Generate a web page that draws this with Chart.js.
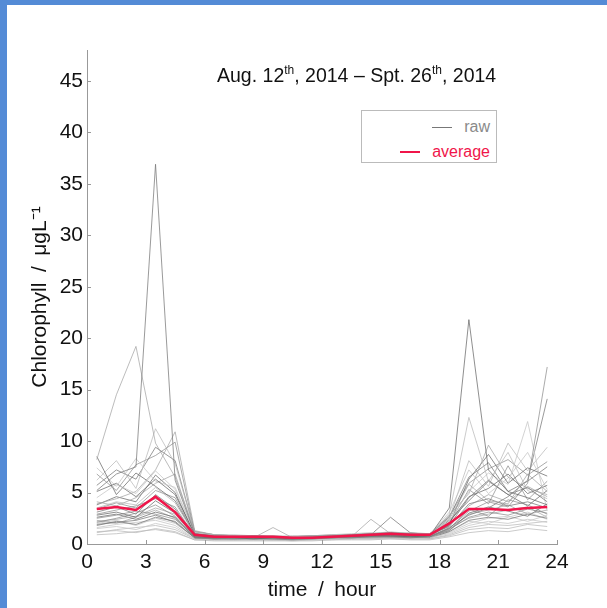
<!DOCTYPE html>
<html>
  <head>
    <title>Chlorophyll daily cycle</title>
    <script src="https://cdn.jsdelivr.net/npm/chart.js"></script>
    <style>
      body {
        margin: 0;
        width: 607px;
        height: 608px;
        background: #fff;
        position: relative;
        overflow: hidden;
        font-family: "Liberation Sans", Arial, sans-serif;
      }
      .frameTop { position: absolute; left: 0; top: 0; width: 607px; height: 5px; background: #548bd6; }
      .frameLeft { position: absolute; left: 0; top: 0; width: 7px; height: 608px; background: #548bd6; }
      canvas { position: absolute; left: 0; top: 0; }
      .title {
        position: absolute;
        left: 217px;
        top: 63px;
        font-size: 19.5px;
        color: #111;
        white-space: nowrap;
      }
      .title sup { font-size: 12px; }
      .legend {
        position: absolute;
        left: 361px;
        top: 110px;
        width: 134px;
        height: 51px;
        border: 1px solid #bbb;
        background: #fff;
        font-size: 16px;
      }
      .row { position: absolute; right: 6px; display: flex; align-items: center; }
      .row span.swatch { display: inline-block; width: 20px; margin-right: 12px; }
    </style>
  </head>
  <body>
    <div class="frameTop"></div>
    <div class="frameLeft"></div>
    <canvas id="chart" width="607" height="608"></canvas>
    <div class="title">Aug. 12<sup>th</sup>, 2014 – Spt. 26<sup>th</sup>, 2014</div>
    <div class="legend">
      <div class="row" style="top:7px;color:#8a8a8a"><span class="swatch" style="border-top:1.5px solid #777"></span>raw</div>
      <div class="row" style="top:32px;color:#f0154a"><span class="swatch" style="border-top:2px solid #f0154a"></span>average</div>
    </div>

    <script>
      // hour of each sample (half past)
      const hours = [0.5, 1.5, 2.5, 3.5, 4.5, 5.5, 6.5, 7.5, 8.5, 9.5, 10.5, 11.5,
                     12.5, 13.5, 14.5, 15.5, 16.5, 17.5, 18.5, 19.5, 20.5, 21.5, 22.5, 23.5];

      const average = [3.4, 3.6, 3.3, 4.6, 3.1, 0.9, 0.7, 0.7, 0.7, 0.7, 0.6, 0.6,
                       0.7, 0.8, 0.9, 1.0, 0.9, 0.9, 2.0, 3.4, 3.4, 3.3, 3.5, 3.6];

      // raw daily profiles, ug/L
      const day01 = [5.2, 6.8, 7.5, 36.9, 6.2, 1.0, 0.8, 0.7, 0.8, 0.7, 0.6, 0.7, 0.8, 0.9, 1.0, 1.1, 1.0, 0.9, 1.8, 4.5, 6.2, 4.8, 5.5, 4.1];
      const day02 = [8.2, 14.5, 19.2, 9.8, 6.5, 1.2, 0.9, 0.8, 0.7, 0.7, 0.8, 0.8, 0.9, 0.8, 0.9, 1.0, 1.1, 1.0, 2.4, 5.8, 4.2, 3.9, 6.8, 5.1];
      const day03 = [2.8, 3.1, 2.6, 4.2, 3.0, 0.7, 0.6, 0.6, 0.5, 0.6, 0.5, 0.6, 0.7, 0.7, 0.8, 0.8, 0.7, 0.8, 3.5, 21.8, 7.2, 5.1, 4.5, 3.8];
      const day04 = [3.5, 4.1, 3.8, 5.5, 4.0, 0.9, 0.8, 0.7, 0.7, 0.6, 0.6, 0.7, 0.7, 0.8, 0.9, 1.0, 0.9, 0.8, 2.9, 12.3, 6.1, 8.9, 5.2, 4.4];
      const day05 = [2.1, 2.5, 3.0, 3.8, 2.7, 0.6, 0.5, 0.6, 0.6, 0.5, 0.5, 0.6, 0.6, 0.7, 0.8, 0.7, 0.8, 0.8, 1.5, 3.2, 4.1, 3.6, 5.9, 17.2];
      const day06 = [4.5, 5.8, 4.9, 7.1, 5.3, 1.1, 0.9, 0.8, 0.8, 0.7, 0.7, 0.7, 0.8, 0.9, 1.0, 1.2, 1.0, 1.0, 2.2, 5.1, 6.9, 5.8, 11.9, 3.2];
      const day07 = [1.8, 2.2, 1.9, 2.6, 2.2, 0.6, 0.5, 0.5, 0.5, 0.5, 0.4, 0.5, 0.6, 0.6, 0.7, 0.7, 0.6, 0.7, 1.6, 2.8, 3.5, 4.6, 6.2, 14.1];
      const day08 = [3.9, 4.4, 5.1, 7.2, 10.9, 1.3, 0.9, 0.8, 0.8, 0.8, 0.7, 0.8, 0.8, 0.9, 1.0, 1.0, 1.0, 0.9, 2.8, 4.9, 9.6, 6.5, 5.4, 4.8];
      const day09 = [8.5, 4.8, 6.9, 5.6, 4.2, 0.9, 0.7, 0.7, 0.7, 0.6, 0.6, 0.6, 0.7, 0.8, 0.8, 0.9, 0.8, 0.8, 1.9, 6.3, 8.7, 5.9, 7.4, 6.6];
      const day10 = [6.2, 8.1, 5.4, 11.2, 7.8, 1.2, 0.9, 0.9, 0.8, 0.8, 0.7, 0.8, 0.9, 1.0, 1.1, 1.0, 1.0, 0.9, 2.5, 8.1, 5.6, 9.8, 7.1, 9.4];
      const day11 = [2.5, 2.8, 3.2, 2.9, 2.4, 0.7, 0.6, 0.6, 0.6, 0.6, 0.5, 0.6, 0.6, 0.7, 0.7, 0.8, 0.7, 0.7, 1.4, 2.6, 3.1, 2.8, 3.4, 3.0];
      const day12 = [1.5, 1.7, 1.4, 2.0, 1.6, 0.5, 0.5, 0.5, 0.4, 0.4, 0.4, 0.5, 0.5, 0.6, 0.6, 0.6, 0.6, 0.6, 1.0, 1.8, 2.2, 2.0, 2.4, 2.1];
      const day13 = [3.1, 3.6, 2.9, 4.8, 3.4, 0.8, 0.7, 0.6, 0.7, 0.6, 0.6, 0.6, 0.7, 0.8, 0.9, 2.6, 1.1, 0.9, 1.7, 3.9, 4.4, 3.7, 4.1, 3.5];
      const day14 = [2.2, 2.4, 2.7, 3.5, 2.9, 0.7, 0.6, 0.5, 0.6, 1.6, 0.6, 0.6, 0.7, 0.7, 2.4, 1.0, 0.8, 0.8, 1.3, 2.9, 3.3, 3.8, 2.9, 3.3];
      const day15 = [5.1, 5.9, 4.6, 6.3, 4.8, 1.0, 0.8, 0.8, 0.7, 0.7, 0.7, 0.7, 0.8, 0.8, 0.9, 1.0, 0.9, 0.9, 2.1, 4.6, 5.4, 6.8, 4.9, 5.7];
      const day16 = [1.2, 1.3, 1.1, 1.5, 1.2, 0.4, 0.4, 0.4, 0.4, 0.4, 0.3, 0.4, 0.4, 0.5, 0.5, 0.5, 0.5, 0.5, 0.8, 1.4, 1.6, 1.5, 1.9, 1.7];
      const day17 = [2.9, 3.3, 3.7, 4.4, 3.6, 0.8, 0.6, 0.6, 0.6, 0.5, 0.5, 0.6, 0.6, 0.7, 0.8, 0.8, 0.8, 0.7, 1.5, 3.4, 2.7, 4.3, 3.8, 2.9];
      const day18 = [7.4, 5.6, 8.3, 6.1, 5.5, 1.1, 0.8, 0.7, 0.7, 0.7, 0.6, 0.7, 0.8, 0.8, 0.9, 1.0, 0.9, 0.9, 3.1, 7.2, 4.9, 6.4, 8.9, 5.3];
      const day19 = [1.9, 2.1, 2.3, 2.8, 2.1, 0.6, 0.5, 0.5, 0.5, 0.5, 0.5, 0.5, 0.6, 0.6, 0.6, 0.7, 0.7, 0.6, 1.2, 2.3, 2.6, 2.4, 2.9, 2.5];
      const day20 = [4.1, 3.7, 4.5, 5.9, 6.8, 1.0, 0.7, 0.7, 0.7, 0.6, 0.6, 0.7, 0.7, 0.8, 0.9, 0.9, 0.9, 0.8, 1.8, 3.7, 4.8, 4.1, 5.6, 4.6];
      const day21 = [2.6, 2.9, 2.4, 3.1, 2.6, 0.6, 0.6, 0.5, 0.5, 0.5, 0.5, 0.5, 0.6, 0.6, 0.7, 0.7, 0.7, 0.7, 1.3, 3.0, 3.6, 3.2, 2.7, 3.9];
      const day22 = [0.9, 1.0, 1.2, 1.4, 1.1, 0.4, 0.3, 0.3, 0.3, 0.3, 0.3, 0.3, 0.4, 0.4, 0.4, 0.5, 0.4, 0.4, 0.7, 1.1, 1.3, 1.2, 1.5, 1.3];
      const day23 = [3.4, 4.0, 3.5, 5.2, 4.5, 0.9, 0.7, 0.7, 0.6, 0.6, 0.6, 0.6, 0.7, 0.8, 0.8, 0.9, 0.8, 0.8, 2.0, 5.3, 3.9, 7.6, 4.3, 6.1];
      const day24 = [1.6, 1.9, 2.1, 2.3, 1.8, 0.5, 0.5, 0.4, 0.5, 0.4, 0.4, 0.5, 0.5, 0.5, 0.6, 0.6, 0.6, 0.6, 1.1, 2.0, 2.5, 2.7, 2.2, 2.8];
      const day25 = [5.7, 7.2, 6.3, 9.4, 8.1, 1.2, 0.9, 0.8, 0.8, 0.7, 0.7, 0.8, 0.8, 0.9, 1.0, 1.1, 1.0, 1.0, 2.6, 6.5, 7.9, 5.1, 6.1, 7.5];
      const day26 = [2.3, 2.0, 2.6, 3.3, 2.5, 0.7, 0.6, 0.6, 0.5, 0.5, 0.5, 0.5, 0.6, 0.7, 0.7, 0.8, 0.7, 0.7, 1.5, 2.5, 2.9, 3.3, 3.6, 2.6];
      const day27 = [3.8, 4.6, 4.1, 6.7, 5.0, 0.9, 0.8, 0.7, 0.7, 0.7, 0.6, 0.7, 0.7, 0.8, 0.9, 0.9, 0.9, 0.8, 2.3, 4.2, 6.1, 4.8, 3.7, 5.2];
      const day28 = [1.1, 1.4, 1.6, 1.8, 1.4, 0.5, 0.4, 0.4, 0.4, 0.4, 0.4, 0.4, 0.5, 0.5, 0.5, 0.6, 0.5, 0.5, 0.9, 1.6, 1.9, 1.8, 2.0, 2.2];
      const day29 = [6.8, 5.2, 7.7, 8.6, 9.9, 1.1, 0.8, 0.8, 0.7, 0.7, 0.7, 0.7, 0.8, 0.9, 0.9, 1.0, 0.9, 0.9, 2.7, 5.9, 7.3, 8.2, 6.7, 8.0];
      const day30 = [2.0, 2.3, 1.8, 2.5, 2.0, 0.6, 0.5, 0.5, 0.5, 0.5, 0.4, 0.5, 0.5, 0.6, 0.6, 0.6, 0.6, 0.6, 1.2, 2.2, 2.0, 2.6, 3.1, 2.4];

      const rawDays = [day01, day02, day03, day04, day05, day06, day07, day08, day09, day10,
                       day11, day12, day13, day14, day15, day16, day17, day18, day19, day20,
                       day21, day22, day23, day24, day25, day26, day27, day28, day29, day30];

      const xTicks = [0, 3, 6, 9, 12, 15, 18, 21, 24];
      const yTicks = [0, 5, 10, 15, 20, 25, 30, 35, 40, 45];

      // gray shades for the raw lines
      const grays = ["rgba(120,120,120,0.75)", "rgba(160,160,160,0.7)", "rgba(95,95,95,0.7)",
                     "rgba(185,185,185,0.75)", "rgba(135,135,135,0.7)", "rgba(200,200,200,0.8)"];

      const toXY = arr => hours.map((h, i) => ({ x: h, y: arr[i] }));

      const datasets = [{
        label: "average",
        data: toXY(average),
        borderColor: "#f0154a",
        borderWidth: 2.5
      }];
      rawDays.forEach((d, i) => {
        datasets.push({
          label: "raw",
          data: toXY(d),
          borderColor: grays[i % grays.length],
          borderWidth: 1
        });
      });

      // small inward tick marks, matlab style
      const inwardTicks = {
        id: "inwardTicks",
        afterDraw(chart) {
          const { ctx, chartArea, scales } = chart;
          ctx.save();
          ctx.strokeStyle = "#999";
          ctx.lineWidth = 1;
          xTicks.forEach(v => {
            const px = Math.round(scales.x.getPixelForValue(v)) + 0.5;
            ctx.beginPath();
            ctx.moveTo(px, chartArea.bottom);
            ctx.lineTo(px, chartArea.bottom - 4);
            ctx.stroke();
          });
          yTicks.forEach(v => {
            const py = Math.round(scales.y.getPixelForValue(v)) + 0.5;
            ctx.beginPath();
            ctx.moveTo(chartArea.left, py);
            ctx.lineTo(chartArea.left + 4, py);
            ctx.stroke();
          });
          ctx.restore();
        }
      };

      new Chart(document.getElementById("chart"), {
        type: "line",
        data: { datasets },
        plugins: [inwardTicks],
        options: {
          responsive: false,
          animation: false,
          devicePixelRatio: 1,
          layout: { padding: { left: 26, right: 50, top: 50, bottom: 0 } },
          elements: { point: { radius: 0 }, line: { tension: 0 } },
          plugins: { legend: { display: false }, tooltip: { enabled: false } },
          scales: {
            x: {
              type: "linear",
              min: 0,
              max: 24,
              afterBuildTicks: s => { s.ticks = xTicks.map(v => ({ value: v })); },
              afterFit: s => { s.height = 64; },
              grid: { display: true, drawOnChartArea: false, drawTicks: false },
              border: { color: "#999", width: 1 },
              ticks: { color: "#111", padding: 6, font: { size: 21, family: "Liberation Sans" }, maxRotation: 0 },
              title: {
                display: true,
                text: "time\u2002/\u2002hour",
                color: "#111",
                font: { size: 21, family: "Liberation Sans" },
                padding: { top: 0, bottom: 5 }
              }
            },
            y: {
              min: 0,
              max: 48,
              afterBuildTicks: s => { s.ticks = yTicks.map(v => ({ value: v })); },
              afterFit: s => { s.width = 61; },
              grid: { display: true, drawOnChartArea: false, drawTicks: false },
              border: { color: "#999", width: 1 },
              ticks: { color: "#111", padding: 4, font: { size: 21, family: "Liberation Sans" } },
              title: {
                display: true,
                text: "Chlorophyll\u2002/\u2002μgL⁻¹",
                color: "#111",
                font: { size: 21, family: "Liberation Sans" },
                padding: { top: 2, bottom: 0 }
              }
            }
          }
        }
      });
    </script>
  </body>
</html>
